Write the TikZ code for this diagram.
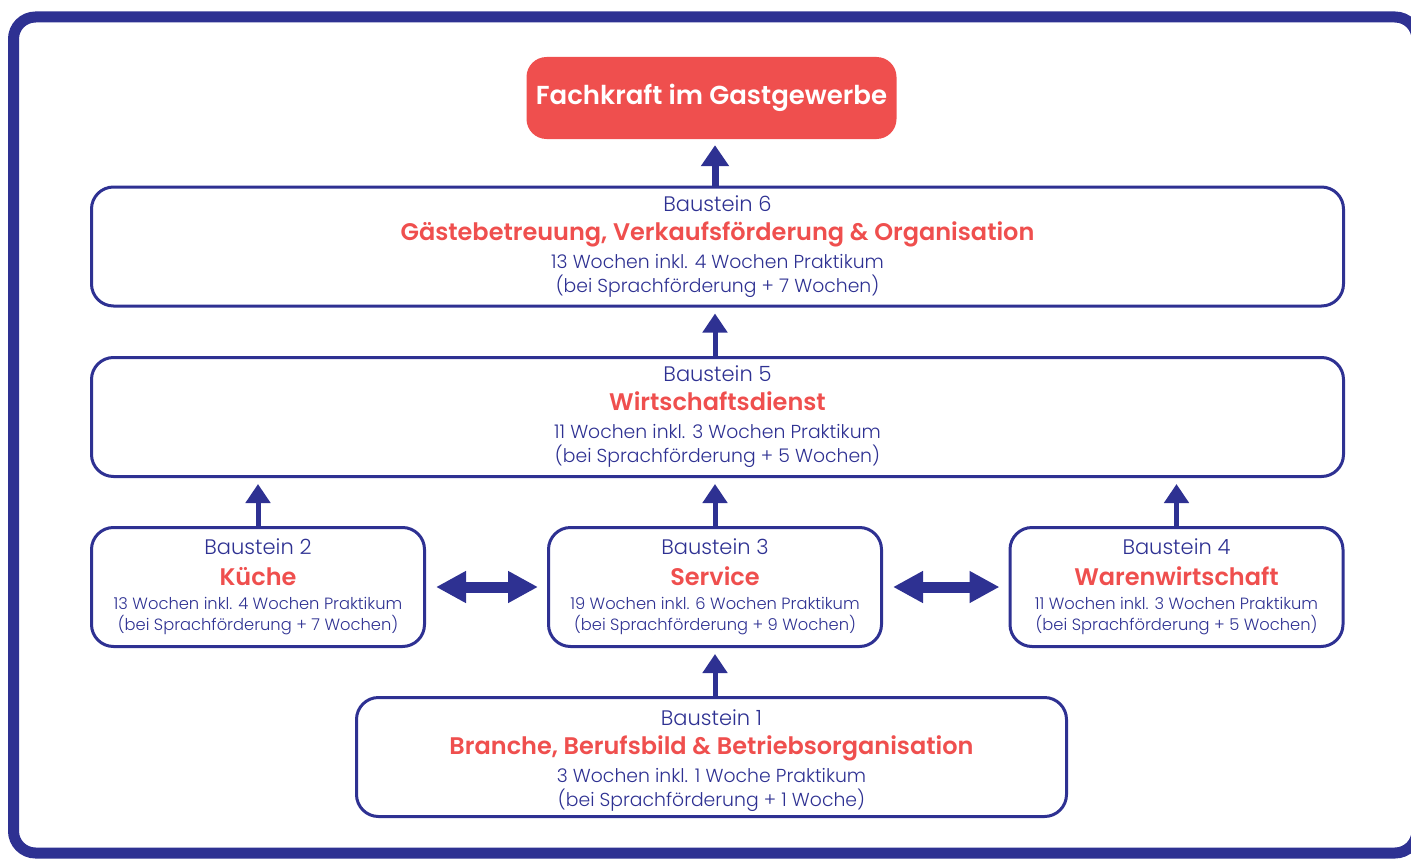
\documentclass[tikz,border=0pt]{standalone}
\usepackage{fontspec}
\setmainfont{Poppins}[UprightFont={* Light},BoldFont={* SemiBold}]
\usetikzlibrary{arrows.meta}
\definecolor{navy}{RGB}{46,49,146}
\definecolor{coral}{RGB}{239,79,78}

\newcommand{\stein}[1]{{\fontsize{21}{24}\selectfont #1}}
\newcommand{\fach}[1]{{\fontsize{24}{24}\selectfont\bfseries\color{coral}#1}}

\begin{document}
\begin{tikzpicture}[x=1pt,y=-1pt,
    box/.style={draw=navy, line width=3pt, rounded corners=22pt, align=center, text=navy, minimum height=119pt, inner sep=0pt, font=\fontsize{18.8}{24}\selectfont},
    small/.style={box, minimum width=333pt, font=\fontsize{16.3}{21}\selectfont},
    wide/.style={box, minimum width=1252pt},
    up/.style={navy, line width=5pt, -{Triangle[width=24pt,length=19pt]}, shorten >=6pt},
    both/.style={navy, line width=11pt, {Triangle[width=30pt,length=30pt]}-{Triangle[width=30pt,length=30pt]}, shorten <=10pt, shorten >=9pt}]

\useasboundingbox (0,0) rectangle (1411,859);
% frame
\draw[navy, line width=11pt, rounded corners=22pt] (13.5,17) rectangle (1417,853);

% ziel
\node[fill=coral, rounded corners=20pt, minimum width=370pt, minimum height=82pt, inner sep=0pt, text=white, font=\fontsize{26}{28}\selectfont\bfseries] (ziel) at (711.5,98) {Fachkraft im Gastgewerbe};

% bausteine
\node[wide] (b6) at (717.5,246.5) {\stein{Baustein 6}\\[5pt] \fach{Gästebetreuung, Verkaufsförderung \& Organisation}\\[4pt] 13 Wochen inkl. 4 Wochen Praktikum\\ (bei Sprachförderung + 7 Wochen)};
\node[wide] (b5) at (717.5,417) {\stein{Baustein 5}\\[5pt] \fach{Wirtschaftsdienst}\\[4pt] 11 Wochen inkl. 3 Wochen Praktikum\\ (bei Sprachförderung + 5 Wochen)};
\node[small] (b2) at (258,587) {\stein{Baustein 2}\\[9.5pt] \fach{Küche}\\[3.5pt] 13 Wochen inkl. 4 Wochen Praktikum\\ (bei Sprachförderung + 7 Wochen)};
\node[small] (b3) at (715,587) {\stein{Baustein 3}\\[9.5pt] \fach{Service}\\[3.5pt] 19 Wochen inkl. 6 Wochen Praktikum\\ (bei Sprachförderung + 9 Wochen)};
\node[small] (b4) at (1176.5,587) {\stein{Baustein 4}\\[9.5pt] \fach{Warenwirtschaft}\\[3.5pt] 11 Wochen inkl. 3 Wochen Praktikum\\ (bei Sprachförderung + 5 Wochen)};
\node[box, minimum width=710pt] (b1) at (711.5,757) {\rule{0pt}{24pt}\stein{Baustein 1}\\[5pt] \fach{Branche, Berufsbild \& Betriebsorganisation}\\[4pt] 3 Wochen inkl. 1 Woche Praktikum\\ (bei Sprachförderung + 1 Woche)};

% pfeile
\draw[up, line width=7pt, -{Triangle[width=27pt,length=21pt]}] (b6.north -| b3) -- (ziel.south -| b3);
\draw[up] (b5.north -| b3) -- (b6.south -| b3);
\draw[up] (b2.north) -- (b5.south -| b2);
\draw[up] (b3.north) -- (b5.south -| b3);
\draw[up] (b4.north) -- (b5.south -| b4);
\draw[up] (b1.north -| b3) -- (b3.south);
\draw[both] (b2) -- (b3);
\draw[both] (b3) -- (b4);
\end{tikzpicture}
\end{document}
